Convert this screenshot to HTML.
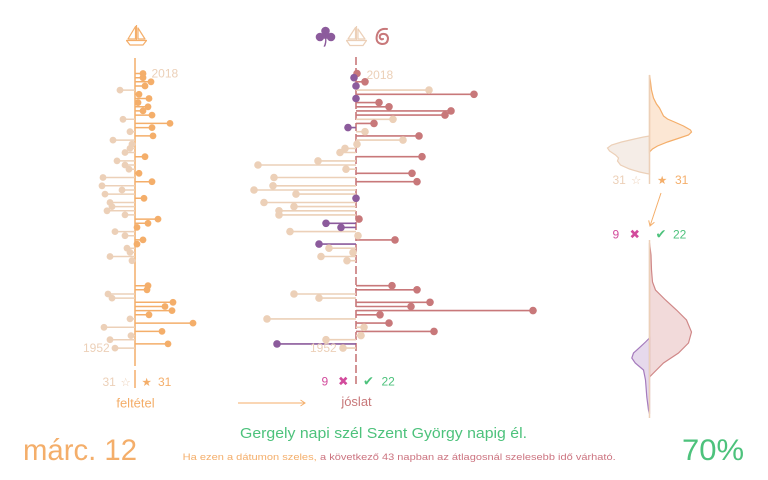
<!DOCTYPE html>
<html>
<head>
<meta charset="utf-8">
<style>
html,body{margin:0;padding:0;background:#fff;}
svg{display:block;}
text{font-family:"Liberation Sans","DejaVu Sans",sans-serif;}
</style>
</head>
<body>
<svg width="768" height="480" viewBox="0 0 768 480" xmlns="http://www.w3.org/2000/svg">
<rect width="768" height="480" fill="#fff"/>

<!-- ICONS -->
<g fill="none" stroke="#f4ae6a" stroke-width="1.2" stroke-linejoin="round">
  <path d="M136.5 25V40M135.5 26.5L128 39H135.5ZM138 28L145 39H138Z"/>
  <path d="M126 40.5H147M126.5 40.5L130 45H143L146.5 40.5"/>
</g>
<g fill="none" stroke="#ecd0b8" stroke-width="1.2" stroke-linejoin="round">
  <path d="M356.5 26V40M355.5 27.5L348 39H355.5ZM358 29L365 39H358Z"/>
  <path d="M346 40.5H367M346.5 40.5L350 45.5H363L366.5 40.5"/>
</g>
<g fill="#8c5b9c">
  <circle cx="325.5" cy="31" r="4.3"/>
  <circle cx="320" cy="37" r="4.3"/>
  <circle cx="331" cy="37" r="4.3"/>
  <circle cx="325.5" cy="36" r="3"/>
  <path d="M325 38Q325.5 43 323.5 46.5L325 46.8Q327 43 326.3 38Z"/>
</g>
<g fill="none" stroke="#c8787a" stroke-width="2" stroke-linecap="round">
  <path d="M387 29Q379 28 377 35Q375 43 382 44Q388 44 388 38Q387 33 382 34Q379 35 380 38Q381 40 383 39"/>
</g>

<!-- LEFT PANEL -->
<line x1="135" y1="58" x2="135" y2="366" stroke="#f4ae6a" stroke-width="1.5"/>
<line x1="135" y1="370" x2="135" y2="388" stroke="#f4ae6a" stroke-width="1.5"/>
<path fill="none" stroke="#ecd0b8" stroke-width="1.5" d="M135 90.1H120M135 119.3H123M135 131.7H130M135 140.1H113M135 144.2H132M135 148.4H130M135 152.5H125M135 160.9H117M135 165H125M135 169.2H129M135 177.5H103M135 185.8H102M135 190H122M135 194.1H105M135 202.5H110M135 206.6H112M135 210.8H107M135 214.9H125M135 231.6H115M135 235.7H125M135 248.2H127M135 252.4H130M135 256.5H110M135 260.7H132M135 294H108M135 298.1H112M135 318.9H130M135 327.3H104M135 335.6H131M135 339.7H110M135 348.1H115"/>
<path fill="none" stroke="#f4ae6a" stroke-width="1.5" d="M135 73.5H143M135 77.7H143M135 81.8H151M135 86H145M135 94.3H139M135 98.5H149M135 102.6H138M135 106.8H148M135 110.9H143M135 115.1H152M135 123.4H170M135 127.6H152M135 135.9H153M135 156.7H145M135 173.3H139M135 181.7H152M135 198.3H144M135 219.1H158M135 223.3H148M135 227.4H137M135 239.9H143M135 244.1H137M135 285.7H148M135 289.8H147M135 302.3H173M135 306.5H165M135 310.6H172M135 314.8H149M135 323.1H193M135 331.4H162M135 343.9H168"/>
<g fill="#ecd0b8">
<circle cx="120" cy="90.1" r="3.4"/><circle cx="123" cy="119.3" r="3.4"/><circle cx="130" cy="131.7" r="3.4"/><circle cx="113" cy="140.1" r="3.4"/><circle cx="132" cy="144.2" r="3.4"/><circle cx="130" cy="148.4" r="3.4"/><circle cx="125" cy="152.5" r="3.4"/><circle cx="117" cy="160.9" r="3.4"/><circle cx="125" cy="165" r="3.4"/><circle cx="129" cy="169.2" r="3.4"/><circle cx="103" cy="177.5" r="3.4"/><circle cx="102" cy="185.8" r="3.4"/><circle cx="122" cy="190" r="3.4"/><circle cx="105" cy="194.1" r="3.4"/><circle cx="110" cy="202.5" r="3.4"/><circle cx="112" cy="206.6" r="3.4"/><circle cx="107" cy="210.8" r="3.4"/><circle cx="125" cy="214.9" r="3.4"/><circle cx="115" cy="231.6" r="3.4"/><circle cx="125" cy="235.7" r="3.4"/><circle cx="127" cy="248.2" r="3.4"/><circle cx="130" cy="252.4" r="3.4"/><circle cx="110" cy="256.5" r="3.4"/><circle cx="132" cy="260.7" r="3.4"/><circle cx="108" cy="294" r="3.4"/><circle cx="112" cy="298.1" r="3.4"/><circle cx="130" cy="318.9" r="3.4"/><circle cx="104" cy="327.3" r="3.4"/><circle cx="131" cy="335.6" r="3.4"/><circle cx="110" cy="339.7" r="3.4"/><circle cx="115" cy="348.1" r="3.4"/>
</g>
<g fill="#f4ae6a">
<circle cx="143" cy="73.5" r="3.4"/><circle cx="143" cy="77.7" r="3.4"/><circle cx="151" cy="81.8" r="3.4"/><circle cx="145" cy="86" r="3.4"/><circle cx="139" cy="94.3" r="3.4"/><circle cx="149" cy="98.5" r="3.4"/><circle cx="138" cy="102.6" r="3.4"/><circle cx="148" cy="106.8" r="3.4"/><circle cx="143" cy="110.9" r="3.4"/><circle cx="152" cy="115.1" r="3.4"/><circle cx="170" cy="123.4" r="3.4"/><circle cx="152" cy="127.6" r="3.4"/><circle cx="153" cy="135.9" r="3.4"/><circle cx="145" cy="156.7" r="3.4"/><circle cx="139" cy="173.3" r="3.4"/><circle cx="152" cy="181.7" r="3.4"/><circle cx="144" cy="198.3" r="3.4"/><circle cx="158" cy="219.1" r="3.4"/><circle cx="148" cy="223.3" r="3.4"/><circle cx="137" cy="227.4" r="3.4"/><circle cx="143" cy="239.9" r="3.4"/><circle cx="137" cy="244.1" r="3.4"/><circle cx="148" cy="285.7" r="3.4"/><circle cx="147" cy="289.8" r="3.4"/><circle cx="173" cy="302.3" r="3.4"/><circle cx="165" cy="306.5" r="3.4"/><circle cx="172" cy="310.6" r="3.4"/><circle cx="149" cy="314.8" r="3.4"/><circle cx="193" cy="323.1" r="3.4"/><circle cx="162" cy="331.4" r="3.4"/><circle cx="168" cy="343.9" r="3.4"/>
</g>
<text x="151.5" y="77.5" font-size="12" fill="#ecd0b8">2018</text>
<text x="83" y="352" font-size="12" fill="#ecd0b8">1952</text>
<text x="102.5" y="386" font-size="12" fill="#ecd0b8">31</text>
<text x="120.5" y="386" font-size="11.5" fill="#ecd0b8">☆</text>
<text x="141.5" y="386" font-size="11.5" fill="#f4ae6a">★</text>
<text x="158" y="386" font-size="12" fill="#f4ae6a">31</text>
<text x="135.5" y="407.5" font-size="13" fill="#f4ae6a" text-anchor="middle">feltétel</text>

<!-- arrow -->
<g stroke="#f4ae6a" stroke-width="1" fill="none">
  <path d="M238 403H305M300.5 400L305 403L300.5 406"/>
</g>

<!-- MIDDLE PANEL -->
<line x1="356" y1="57" x2="356" y2="386" stroke="#c8787a" stroke-width="1.6" stroke-dasharray="8 3"/>
<path fill="none" stroke="#ecd0b8" stroke-width="1.6" d="M356 90.1H429M356 119.3H393M356 131.7H365M356 140.1H403M356 144.2H357M356 148.4H345M356 152.5H340M356 160.9H318M356 165H258M356 169.2H346M356 177.5H274M356 185.8H273M356 190H254M356 194.1H296M356 202.5H264M356 206.6H294M356 210.8H279M356 214.9H279M356 231.6H290M356 235.7H358M356 248.2H329M356 252.4H353M356 256.5H321M356 260.7H347M356 294H294M356 298.1H319M356 318.9H267M356 327.3H364M356 335.6H361M356 339.7H326M356 348.1H343"/>
<path fill="none" stroke="#c8787a" stroke-width="1.6" d="M356 73.5H357M356 81.8H365M356 94.3H474M356 102.6H379M356 106.8H389M356 110.9H451M356 115.1H445M356 123.4H374M356 135.9H419M356 156.7H422M356 173.3H412M356 181.7H417M356 219.1H359M356 239.9H395M356 285.7H392M356 289.8H417M356 302.3H430M356 306.5H411M356 310.6H533M356 314.8H380M356 323.1H389M356 331.4H434"/>
<path fill="none" stroke="#8c5b9c" stroke-width="1.6" d="M356 77.7H354M356 127.6H348M356 223.3H326M356 227.4H341M356 244.1H319M356 343.9H277"/>
<text x="310" y="352" font-size="12" fill="#ecd0b8">1952</text>
<g fill="#ecd0b8">
<circle cx="429" cy="90.1" r="3.8"/><circle cx="393" cy="119.3" r="3.8"/><circle cx="365" cy="131.7" r="3.8"/><circle cx="403" cy="140.1" r="3.8"/><circle cx="357" cy="144.2" r="3.8"/><circle cx="345" cy="148.4" r="3.8"/><circle cx="340" cy="152.5" r="3.8"/><circle cx="318" cy="160.9" r="3.8"/><circle cx="258" cy="165" r="3.8"/><circle cx="346" cy="169.2" r="3.8"/><circle cx="274" cy="177.5" r="3.8"/><circle cx="273" cy="185.8" r="3.8"/><circle cx="254" cy="190" r="3.8"/><circle cx="296" cy="194.1" r="3.8"/><circle cx="264" cy="202.5" r="3.8"/><circle cx="294" cy="206.6" r="3.8"/><circle cx="279" cy="210.8" r="3.8"/><circle cx="279" cy="214.9" r="3.8"/><circle cx="290" cy="231.6" r="3.8"/><circle cx="358" cy="235.7" r="3.8"/><circle cx="329" cy="248.2" r="3.8"/><circle cx="353" cy="252.4" r="3.8"/><circle cx="321" cy="256.5" r="3.8"/><circle cx="347" cy="260.7" r="3.8"/><circle cx="294" cy="294" r="3.8"/><circle cx="319" cy="298.1" r="3.8"/><circle cx="267" cy="318.9" r="3.8"/><circle cx="364" cy="327.3" r="3.8"/><circle cx="361" cy="335.6" r="3.8"/><circle cx="326" cy="339.7" r="3.8"/><circle cx="343" cy="348.1" r="3.8"/>
</g>
<g fill="#c8787a">
<circle cx="357" cy="73.5" r="3.8"/><circle cx="365" cy="81.8" r="3.8"/><circle cx="474" cy="94.3" r="3.8"/><circle cx="379" cy="102.6" r="3.8"/><circle cx="389" cy="106.8" r="3.8"/><circle cx="451" cy="110.9" r="3.8"/><circle cx="445" cy="115.1" r="3.8"/><circle cx="374" cy="123.4" r="3.8"/><circle cx="419" cy="135.9" r="3.8"/><circle cx="422" cy="156.7" r="3.8"/><circle cx="412" cy="173.3" r="3.8"/><circle cx="417" cy="181.7" r="3.8"/><circle cx="359" cy="219.1" r="3.8"/><circle cx="395" cy="239.9" r="3.8"/><circle cx="392" cy="285.7" r="3.8"/><circle cx="417" cy="289.8" r="3.8"/><circle cx="430" cy="302.3" r="3.8"/><circle cx="411" cy="306.5" r="3.8"/><circle cx="533" cy="310.6" r="3.8"/><circle cx="380" cy="314.8" r="3.8"/><circle cx="389" cy="323.1" r="3.8"/><circle cx="434" cy="331.4" r="3.8"/>
</g>
<g fill="#8c5b9c">
<circle cx="354" cy="77.7" r="3.8"/><circle cx="356" cy="86" r="3.8"/><circle cx="356" cy="98.5" r="3.8"/><circle cx="348" cy="127.6" r="3.8"/><circle cx="356" cy="198.3" r="3.8"/><circle cx="326" cy="223.3" r="3.8"/><circle cx="341" cy="227.4" r="3.8"/><circle cx="319" cy="244.1" r="3.8"/><circle cx="277" cy="343.9" r="3.8"/>
</g>
<text x="366.5" y="79" font-size="12" fill="#ecd0b8">2018</text>
<text x="321.5" y="385.5" font-size="12" fill="#d24b9c">9</text>
<text x="338" y="385.5" font-size="12.5" fill="#d24b9c">✖</text>
<text x="363" y="385.5" font-size="13" fill="#4dc27c">✔</text>
<text x="381.5" y="385.5" font-size="12" fill="#4dc27c">22</text>
<text x="356.5" y="406" font-size="13" fill="#c8787a" text-anchor="middle">jóslat</text>

<!-- RIGHT PANEL -->
<path fill="#f5ede7" stroke="#ecd0b8" stroke-width="1.2" d="M649.5 136L643.5 137L634.5 139L621.5 142L611.5 145L607.5 148L609.5 151L615.5 155L618.5 158L617.5 161L620.5 165L629.5 169L639.5 172L646.5 173.5L649.5 174Z"/>
<path fill="#fce7d4" stroke="#f4ae6a" stroke-width="1.2" d="M649.5 75L650.5 82L651.5 90L653.5 98L656.5 104L659.5 108L661.5 112L663.5 116L667.5 119L674.5 122L683.5 126L690.5 130L691.5 132L688.5 135L679.5 138L667.5 142L657.5 146L652.5 149L649.5 152Z"/>
<line x1="649.5" y1="75" x2="649.5" y2="184" stroke="#ecd0b8" stroke-width="1.5"/>
<text x="612.5" y="184" font-size="12" fill="#ecd0b8">31</text>
<text x="631" y="184" font-size="11.5" fill="#ecd0b8">☆</text>
<text x="657" y="184" font-size="11.5" fill="#f4ae6a">★</text>
<text x="675" y="184" font-size="12" fill="#f4ae6a">31</text>
<g stroke="#f4ae6a" stroke-width="1" fill="none">
  <path d="M661 193L650 226M654.4 222.3L650 226L648.7 220.4"/>
</g>
<text x="612.5" y="238.5" font-size="12" fill="#d24b9c">9</text>
<text x="629.5" y="238.5" font-size="12.5" fill="#d24b9c">✖</text>
<text x="655.5" y="238.5" font-size="13" fill="#4dc27c">✔</text>
<text x="673" y="238.5" font-size="12" fill="#4dc27c">22</text>

<path fill="#f2dada" stroke="#d08888" stroke-width="1.2" d="M649.5 243L651 255L651.5 270L652.5 282L655.5 290L665.5 300L676.5 310L686.5 320L691.5 332L688.5 343L678.5 353L663.5 363L653.5 373L649.5 377Z"/>
<path fill="#e6d9ec" stroke="#a57bbd" stroke-width="1.2" d="M649.5 338L645.5 342L640.5 346.7L633.5 353L631.8 358L635.2 363L643.5 370L645.5 380L646.8 397L648.5 410L649.5 414Z"/>
<line x1="649.5" y1="240" x2="649.5" y2="418" stroke="#ecd0b8" stroke-width="1.5"/>

<!-- BOTTOM TEXT -->
<text x="23" y="460" font-size="30" fill="#f4ae6a" textLength="114" lengthAdjust="spacingAndGlyphs">márc. 12</text>
<text x="240" y="438" font-size="14.5" fill="#4dc27c" textLength="287" lengthAdjust="spacingAndGlyphs">Gergely napi szél Szent György napig él.</text>
<text x="182.7" y="460" font-size="9.5" fill="#f4ae6a" textLength="134" lengthAdjust="spacingAndGlyphs">Ha ezen a dátumon szeles,</text>
<text x="320" y="460" font-size="9.5" fill="#cc7480" textLength="295.7" lengthAdjust="spacingAndGlyphs">a következő 43 napban az átlagosnál szelesebb idő várható.</text>
<text x="682" y="460" font-size="30" fill="#4dc27c" textLength="62" lengthAdjust="spacingAndGlyphs">70%</text>
</svg>
</body>
</html>
